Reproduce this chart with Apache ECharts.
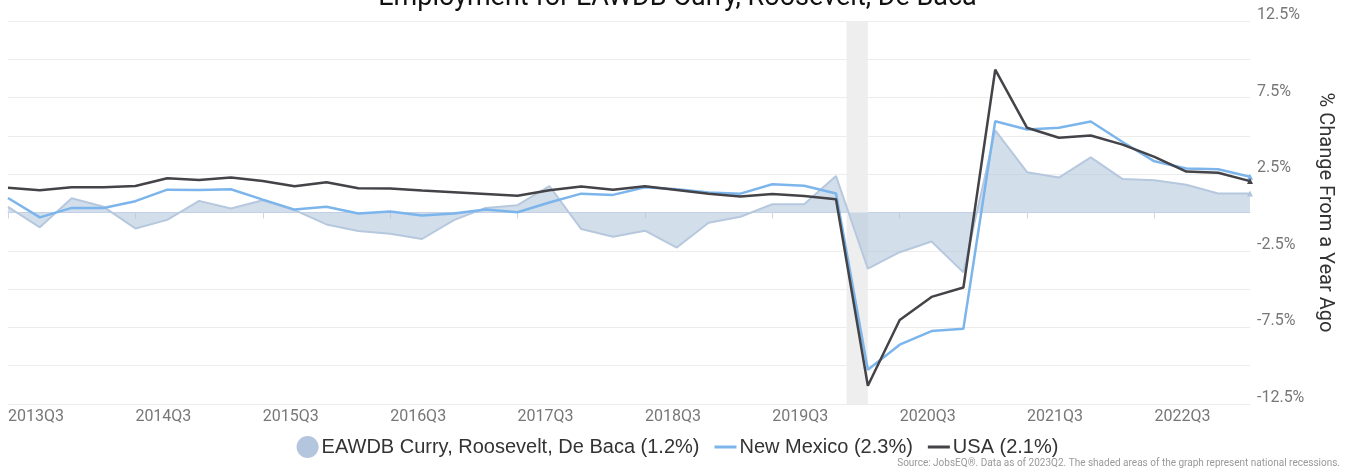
<!DOCTYPE html>
<html lang="en">
<head>
  <meta charset="UTF-8">
  <title>Employment for EAWDB Curry, Roosevelt, De Baca</title>
  <style>
    html, body { margin: 0; padding: 0; background: #fff; }
    #chart { width: 1355px; height: 475px; }
  </style>
</head>
<body>
  <div id="chart"></div>
  <script src="https://cdn.jsdelivr.net/npm/echarts@6/dist/echarts.min.js"></script>
  <script>
    // quarters from 2013Q3 to 2023Q2
    const quarters = [
      '2013Q3', '2013Q4', '2014Q1', '2014Q2', '2014Q3', '2014Q4', '2015Q1', '2015Q2',
      '2015Q3', '2015Q4', '2016Q1', '2016Q2', '2016Q3', '2016Q4', '2017Q1', '2017Q2',
      '2017Q3', '2017Q4', '2018Q1', '2018Q2', '2018Q3', '2018Q4', '2019Q1', '2019Q2',
      '2019Q3', '2019Q4', '2020Q1', '2020Q2', '2020Q3', '2020Q4', '2021Q1', '2021Q2',
      '2021Q3', '2021Q4', '2022Q1', '2022Q2', '2022Q3', '2022Q4', '2023Q1', '2023Q2'
    ];

    // % change from a year ago
    const eawdb = [
      0.37, -0.97, 0.93, 0.37, -1.04, -0.48, 0.76, 0.26, 0.80, 0.15,
      -0.78, -1.21, -1.39, -1.73, -0.50, 0.30, 0.48, 1.73, -1.08, -1.58,
      -1.19, -2.29, -0.67, -0.28, 0.54, 0.54, 2.38, -3.67, -2.59, -1.89,
      -3.91, 5.36, 2.63, 2.28, 3.60, 2.18, 2.11, 1.81, 1.24, 1.24
    ];
    const newMexico = [
      0.95, -0.32, 0.30, 0.30, 0.74, 1.49, 1.47, 1.52, 0.84, 0.19,
      0.38, -0.06, 0.06, -0.19, -0.06, 0.19, 0.02, 0.65, 1.23, 1.15,
      1.65, 1.52, 1.30, 1.23, 1.84, 1.75, 1.24, -10.27, -8.63, -7.74,
      -7.59, 5.96, 5.42, 5.53, 5.94, 4.60, 3.34, 2.87, 2.82, 2.33
    ];
    const usa = [
      1.62, 1.45, 1.65, 1.65, 1.73, 2.23, 2.12, 2.29, 2.06, 1.71,
      1.97, 1.58, 1.56, 1.43, 1.32, 1.21, 1.10, 1.45, 1.69, 1.49,
      1.72, 1.47, 1.23, 1.04, 1.21, 1.08, 0.87, -11.31, -7.02, -5.51,
      -4.90, 9.32, 5.53, 4.88, 5.03, 4.43, 3.63, 2.67, 2.59, 2.05
    ];

    const seriesNames = [
      'EAWDB Curry, Roosevelt, De Baca (1.2%)',
      'New Mexico (2.3%)',
      'USA (2.1%)'
    ];

    // recession: Feb 2020 to Apr 2020 (quarter index)
    const recession = [26 + 1 / 3, 27];

    const yTicks = [-12.5, -7.5, -2.5, 2.5, 7.5, 12.5];

    function toPoints(arr) {
      return arr.map((v, i) => {
        if (i === arr.length - 1) {
          return { value: [i, v], symbol: 'triangle', symbolSize: 6 };
        }
        return [i, v];
      });
    }

    const chart = echarts.init(document.getElementById('chart'));
    const font = 'Roboto, "Noto Sans", sans-serif';
    const legendFont = '"Liberation Sans", Arial, sans-serif';
    const lineIcon = 'path://M0,0 L22,0 L22,3 L0,3 Z';

    chart.setOption({
      animation: false,
      textStyle: { fontFamily: font },
      title: [
        {
          text: 'Employment for EAWDB Curry, Roosevelt, De Baca',
          left: 'center',
          top: -20,
          textStyle: { fontSize: 27, fontWeight: 'normal', color: '#111', fontFamily: font }
        },
        {
          text: 'Source: JobsEQ®. Data as of 2023Q2. The shaded areas of the graph represent national recessions.',
          right: 10,
          bottom: 2,
          textStyle: { fontSize: 10, fontWeight: 'normal', color: '#999', fontFamily: font }
        }
      ],
      legend: {
        bottom: 12,
        left: 'center',
        itemGap: 15,
        itemWidth: 22,
        itemHeight: 22,
        symbolKeepAspect: true,
        textStyle: { fontSize: 20, color: '#333', fontFamily: legendFont, padding: [0, 0, 0, -2] },
        data: [
          { name: seriesNames[0], icon: 'circle' },
          { name: seriesNames[1], icon: lineIcon },
          { name: seriesNames[2], icon: lineIcon }
        ]
      },
      grid: { left: 8, right: 105, top: 21, bottom: 71, containLabel: false },
      xAxis: {
        type: 'value',
        min: 0,
        max: quarters.length - 1,
        interval: 4,
        splitLine: { show: false },
        axisLine: { show: true, lineStyle: { color: '#ccd6eb', width: 1 } },
        axisTick: { show: true, length: 6, lineStyle: { color: '#ccd6eb' } },
        axisLabel: {
          showMaxLabel: false,
          align: 'left',
          margin: 5,
          fontSize: 16,
          color: '#777',
          fontFamily: font,
          formatter: v => (v % 4 === 0 ? quarters[v] : '')
        }
      },
      yAxis: {
        type: 'value',
        position: 'right',
        min: -12.5,
        max: 12.5,
        interval: 2.5,
        name: '% Change From a Year Ago',
        nameLocation: 'middle',
        nameRotate: -90,
        nameGap: 64,
        nameTextStyle: { fontSize: 20, color: '#333', fontFamily: font },
        axisLine: { show: false },
        axisTick: { show: false },
        splitLine: { lineStyle: { color: '#ececec', width: 1 } },
        axisLabel: {
          margin: 7,
          fontSize: 16,
          color: '#777',
          fontFamily: font,
          verticalAlign: 'bottom',
          lineHeight: 12,
          formatter: v => (yTicks.includes(v) ? v + '%' : '')
        }
      },
      series: [
        {
          name: 'recession',
          type: 'line',
          data: [],
          z: 1,
          silent: true,
          markArea: {
            silent: true,
            itemStyle: { color: '#eeeeee' },
            data: [[{ xAxis: recession[0] }, { xAxis: recession[1] }]]
          }
        },
        {
          name: seriesNames[0],
          type: 'line',
          z: 2,
          data: toPoints(eawdb),
          symbol: 'none',
          color: '#b3c6dd',
          lineStyle: { color: '#b6c8de', width: 2 },
          areaStyle: { color: 'rgba(176, 196, 220, 0.8)' },
          itemStyle: { color: '#b3c6dd' }
        },
        {
          name: seriesNames[1],
          type: 'line',
          z: 3,
          data: toPoints(newMexico),
          symbol: 'none',
          color: '#7cb5ec',
          lineStyle: { color: '#7cb5ec', width: 2.5 },
          itemStyle: { color: '#7cb5ec' }
        },
        {
          name: seriesNames[2],
          type: 'line',
          z: 4,
          data: toPoints(usa),
          symbol: 'none',
          color: '#434348',
          lineStyle: { color: '#434348', width: 2.5 },
          itemStyle: { color: '#434348' }
        }
      ]
    });
  </script>
</body>
</html>
